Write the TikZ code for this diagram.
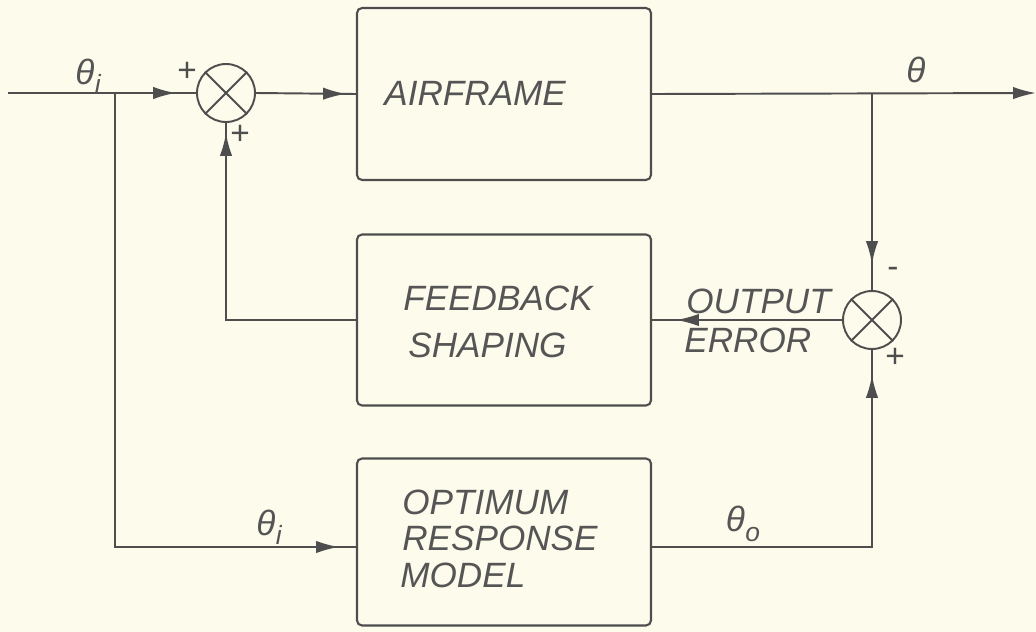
\documentclass[tikz,border=0pt]{standalone}
\usepackage{fontspec}
\setmainfont{Liberation Sans}
\usetikzlibrary{arrows.meta,decorations.markings}
\definecolor{paper}{HTML}{FCFBEC}
\definecolor{ink}{HTML}{4E4E4E}
\definecolor{txt}{HTML}{555555}
\newcommand{\thsub}[1]{θ\kern0.3pt\raisebox{-0.5ex}{\fontsize{15}{15}\selectfont #1}}
\tikzset{
  tip/.tip={Latex[length=13pt,width=7pt]},
  wire/.style={draw=ink,line width=1.1pt},
  blockbox/.style={draw=ink,line width=1.2pt,rounded corners=0.1cm,minimum width=5.88cm,inner sep=0pt},
  sumnode/.style={circle,draw=ink,line width=1.1pt,minimum size=1.16cm,inner sep=0pt},
  lbl/.style={text=txt,font=\fontsize{20}{24}\selectfont\itshape,inner sep=0pt},
  sgn/.style={text=ink,font=\fontsize{19}{19}\selectfont,inner sep=0pt},
  midtip/.style={postaction={decorate},decoration={markings,mark=at position #1 with {\arrow{tip}}}}
}
\begin{document}
\begin{tikzpicture}[x=0.02cm,y=-0.02cm]
\fill[paper] (0,0) rectangle (1036,632);
\useasboundingbox (0,0) rectangle (1036,632);

% blocks
\node[blockbox,minimum height=3.44cm] (air) at (504,94) {};
\node[blockbox,minimum height=3.42cm] (fb) at (504,320) {};
\node[blockbox,minimum height=3.34cm] (opt) at (504,542) {};

% summing junctions
\node[sumnode] (s1) at (226,93) {};
\node[sumnode] (s2) at (872,320) {};
\draw[wire] (s1.45) -- (s1.225) (s1.135) -- (s1.315);
\draw[wire] (s2.45) -- (s2.225) (s2.135) -- (s2.315);

% block texts
\node[lbl,anchor=west] (tair) at (384,93) {AIRFRAME};
\node[lbl,anchor=west] (tfb1) at (403,298) {FEEDBACK};
\node[lbl,anchor=west] (tfb2) at (408,345) {SHAPING};
\node[lbl,anchor=west] (top1) at (402,502) {OPTIMUM};
\node[lbl,anchor=west] (top2) at (402,538) {RESPONSE};
\node[lbl,anchor=west] (top3) at (400,575) {MODEL};

% coordinates
\coordinate (in) at (8,93);
\coordinate (b1) at (115,93);
\coordinate (out) at (1036,93);
\coordinate (b2) at (872,93);
\coordinate (c4) at (226,320);
\coordinate (c5) at (115,547);
\coordinate (c3) at (872,547);

% connectors
\draw[wire,midtip=-0.4cm] (in) -- (s1.west);
\draw[wire,midtip=-0.2cm] (s1.east) -- (air.west);
\draw[wire,-{tip}] (air.east) -- (out);
\draw[wire,midtip=-0.52cm] (b2) -- (s2.north);
\draw[wire,midtip=-0.5cm] (opt.east |- c3) -- (c3) -- (s2.south);
\draw[wire,midtip=-0.48cm] (s2.west) -- (fb.east);
\draw[wire,midtip=-0.2cm] (fb.west) -- (c4) -- (s1.south);
\draw[wire,midtip=-0.34cm] (b1) -- (c5) -- (opt.west |- c5);

% signal labels
\node[lbl] (lthi) at (88,76) {\thsub{i}};
\node[lbl] (lth) at (916,70) {θ};
\node[lbl] (lthi2) at (269,527) {\thsub{i}};
\node[lbl] (ltho) at (743,524) {\thsub{o}};
\node[lbl,anchor=west] (lout) at (686,301) {OUTPUT};
\node[lbl,anchor=west] (lerr) at (684,340) {ERROR};

% signs
\node[sgn] (p1) at (187,72) {+};
\node[sgn] (p2) at (240,135) {+};
\node[sgn] (m3) at (893,272) {-};
\node[sgn] (p4) at (895,358) {+};
\end{tikzpicture}
\end{document}
